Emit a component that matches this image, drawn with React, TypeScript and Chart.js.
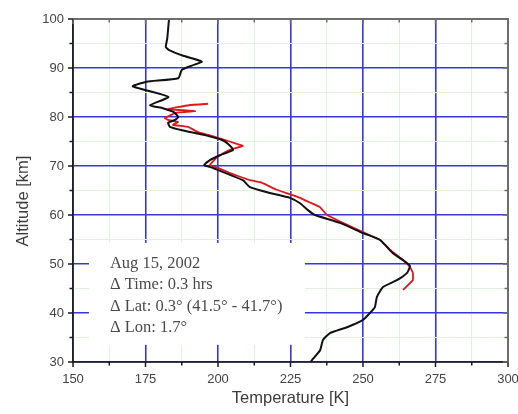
import React, { useEffect, useRef } from 'react';
import { Chart, registerables } from 'chart.js';

Chart.register(...registerables);

// Black profile (altitude km, temperature K)
const blackAlt = [100, 96, 94.3, 93.7, 92.5, 91.3, 90.5, 89.6, 87.9, 87.2, 86.3, 85.8, 84.1, 82.4, 81.8, 81.0, 80.0, 79.4, 78.8, 78.0, 77.3, 76.3, 75.3, 74.5, 73.3, 72.2, 71.2, 70.2, 69.6, 68.2, 67.1, 65.7, 64.5, 63.5, 62.4, 61.0, 60.0, 58.4, 56.3, 54.9, 52.2, 50.8, 49.6, 48.2, 46.7, 45.3, 43.3, 41.2, 40.0, 38.6, 37.1, 35.9, 34.5, 32.4, 30.4, 30];
const blackTemp = [183.1, 182.5, 182, 183, 188, 194.4, 191, 187.5, 186.3, 175.4, 170.6, 173, 182.9, 176.6, 181, 184.8, 186.3, 185.2, 182.8, 183.4, 187.6, 195.5, 201.4, 203.5, 205.2, 200.7, 197.2, 195.2, 198.3, 204.1, 208.6, 211.0, 217.9, 224.8, 228.3, 231.0, 233.4, 242.1, 250.0, 255.9, 260.3, 263.8, 266.2, 265.2, 261.7, 256.9, 254.8, 254.1, 252.4, 250.0, 244.5, 238.6, 236.2, 235.2, 232.4, 232];

// Red profile (altitude km, temperature K)
const redAlt = [82.7, 82.4, 81.6, 81.4, 81.2, 81.0, 80.8, 79.8, 79.4, 79.0, 78.4, 78.0, 76.9, 76.3, 75.3, 74.6, 74.1, 73.3, 72.5, 71.8, 70.2, 69.6, 68.6, 67.8, 67.1, 66.7, 66.1, 65.2, 64.3, 63.5, 62.6, 61.6, 60.0, 58.4, 56.5, 54.9, 52.9, 50.8, 49.4, 48.2, 46.7, 45.7, 44.7];
const redTemp = [196.6, 190, 182.8, 187.6, 192.1, 188, 185.2, 181.7, 182.8, 186.2, 184.5, 189.7, 193.1, 197, 202.5, 206, 208.6, 204.1, 201.5, 199.7, 197.2, 200.0, 204, 207.6, 211, 214.5, 216.9, 220, 224.5, 228.3, 231.5, 235.2, 237.6, 243.1, 250.0, 255.9, 259.3, 263.8, 266.2, 267.2, 267.2, 265.5, 263.8];

const xTickLabels = [150, 175, 200, 225, 250, 275, 300];
const yTickLabels = [30, 40, 50, 60, 70, 80, 90, 100];
const annotationLines = ['Aug 15, 2002', 'Δ Time: 0.3 hrs', 'Δ Lat: 0.3° (41.5° - 41.7°)', 'Δ Lon: 1.7°'];
const xTitle = 'Temperature [K]';
const yTitle = 'Altitude [km]';

const BLUE = 'rgb(55,55,225)';
const MINOR = 'rgb(222,242,222)';

const overlayPlugin = {
  id: 'overlay',
  beforeDatasetsDraw(chart: any) {
    const { ctx, scales } = chart;
    const x = scales.x;
    const y = scales.y;
    const x0 = x.getPixelForValue(155.5);
    const x1 = x.getPixelForValue(230);
    const y0 = y.getPixelForValue(54.3);
    const y1 = y.getPixelForValue(33.5);
    ctx.save();
    ctx.fillStyle = '#ffffff';
    ctx.fillRect(x0, y0, x1 - x0, y1 - y0);
    ctx.fillStyle = '#4a4a4a';
    ctx.font = '16.5px "Liberation Serif", serif';
    ctx.textBaseline = 'alphabetic';
    ctx.textAlign = 'left';
    annotationLines.forEach((t, i) => {
      ctx.fillText(t, x0 + 21, y0 + 25 + i * 21.3);
    });
    ctx.restore();
  },
  afterDraw(chart: any) {
    const { ctx, chartArea, scales } = chart;
    const { left, right, top, bottom } = chartArea;
    const x = scales.x;
    const y = scales.y;
    ctx.save();
    // top & right frame (gray)
    ctx.strokeStyle = '#6e6e6e';
    ctx.lineWidth = 2;
    ctx.beginPath();
    ctx.moveTo(left, top);
    ctx.lineTo(right, top);
    ctx.lineTo(right, bottom);
    ctx.stroke();
    // left & bottom axes (black)
    ctx.strokeStyle = '#1a1a1a';
    ctx.lineWidth = 1.6;
    ctx.beginPath();
    ctx.moveTo(left, top);
    ctx.lineTo(left, bottom);
    ctx.lineTo(right, bottom);
    ctx.stroke();
    // ticks
    for (let v = 150; v <= 300.01; v += 12.5) {
      const px = x.getPixelForValue(v);
      const major = Math.abs(v % 25) < 0.01;
      const len = major ? 5 : 3.5;
      ctx.strokeStyle = '#1a1a1a';
      ctx.lineWidth = 1.5;
      ctx.beginPath();
      ctx.moveTo(px, bottom);
      ctx.lineTo(px, bottom + len);
      ctx.stroke();
      ctx.strokeStyle = '#6e6e6e';
      ctx.beginPath();
      ctx.moveTo(px, top);
      ctx.lineTo(px, top + len);
      ctx.stroke();
    }
    for (let v = 30; v <= 100.01; v += 5) {
      const py = y.getPixelForValue(v);
      const major = Math.abs(v % 10) < 0.01;
      const len = major ? 5 : 3.5;
      ctx.strokeStyle = '#1a1a1a';
      ctx.lineWidth = 1.5;
      ctx.beginPath();
      ctx.moveTo(left, py);
      ctx.lineTo(left - len, py);
      ctx.stroke();
      ctx.strokeStyle = '#6e6e6e';
      ctx.beginPath();
      ctx.moveTo(right, py);
      ctx.lineTo(right - len, py);
      ctx.stroke();
    }
    // axis titles
    ctx.fillStyle = '#3c3c3c';
    ctx.font = '16.5px "Liberation Sans", Arial, sans-serif';
    ctx.textAlign = 'center';
    ctx.textBaseline = 'middle';
    ctx.fillText(xTitle, (left + right) / 2, 398);
    ctx.translate(23, 201);
    ctx.rotate(-Math.PI / 2);
    ctx.fillText(yTitle, 0, 0);
    ctx.restore();
  },
};

export default function App() {
  const canvasRef = useRef<HTMLCanvasElement | null>(null);

  useEffect(() => {
    if (!canvasRef.current) return;
    const blackData = blackAlt.map((a, i) => ({ x: blackTemp[i], y: a }));
    const redData = redAlt.map((a, i) => ({ x: redTemp[i], y: a }));
    const chart = new Chart(canvasRef.current, {
      type: 'scatter',
      data: {
        datasets: [
          {
            data: blackData,
            showLine: true,
            borderColor: '#111111',
            borderWidth: 2,
            pointRadius: 0,
            tension: 0.15,
          },
          {
            data: redData,
            showLine: true,
            borderColor: '#e3161c',
            borderWidth: 1.8,
            pointRadius: 0,
            tension: 0.1,
          },
        ],
      },
      options: {
        responsive: false,
        animation: false,
        maintainAspectRatio: false,
        layout: { padding: { top: 19, right: 10, left: 0, bottom: 0 } },
        plugins: {
          legend: { display: false },
          tooltip: { enabled: false },
          title: { display: false },
        },
        scales: {
          x: {
            type: 'linear',
            min: 150,
            max: 300,
            afterFit: (s: any) => {
              s.height = 52;
              s.paddingLeft = 0;
              s.paddingRight = 0;
            },
            afterBuildTicks: (s: any) => {
              const t = [];
              for (let v = 150; v <= 300.01; v += 12.5) t.push({ value: v });
              s.ticks = t;
            },
            ticks: {
              autoSkip: false,
              maxRotation: 0,
              padding: 10,
              color: '#444',
              font: { family: '"Liberation Sans", Arial, sans-serif', size: 13 },
              callback: (v: any) => (xTickLabels.includes(Number(v)) ? String(v) : ''),
            },
            grid: {
              drawTicks: false,
              color: (c: any) => (xTickLabels.includes(c.tick?.value) ? BLUE : MINOR),
              lineWidth: (c: any) => (xTickLabels.includes(c.tick?.value) ? 1.6 : 1),
            },
            border: { display: false },
          },
          y: {
            type: 'linear',
            min: 30,
            max: 100,
            afterFit: (s: any) => {
              s.width = 73;
              s.paddingTop = 0;
              s.paddingBottom = 0;
            },
            afterBuildTicks: (s: any) => {
              const t = [];
              for (let v = 30; v <= 100.01; v += 5) t.push({ value: v });
              s.ticks = t;
            },
            ticks: {
              autoSkip: false,
              padding: 9,
              color: '#444',
              font: { family: '"Liberation Sans", Arial, sans-serif', size: 13 },
              callback: (v: any) => (yTickLabels.includes(Number(v)) ? String(v) : ''),
            },
            grid: {
              drawTicks: false,
              color: (c: any) => (yTickLabels.includes(c.tick?.value) ? BLUE : MINOR),
              lineWidth: (c: any) => (yTickLabels.includes(c.tick?.value) ? 1.6 : 1),
            },
            border: { display: false },
          },
        },
      },
      plugins: [overlayPlugin],
    });
    return () => chart.destroy();
  }, []);

  return (
    <div style={{ position: 'fixed', left: 0, top: 0, width: 518, height: 414, background: '#fff' }}>
      <canvas ref={canvasRef} width={518} height={414} style={{ width: 518, height: 414, display: 'block' }} />
    </div>
  );
}
